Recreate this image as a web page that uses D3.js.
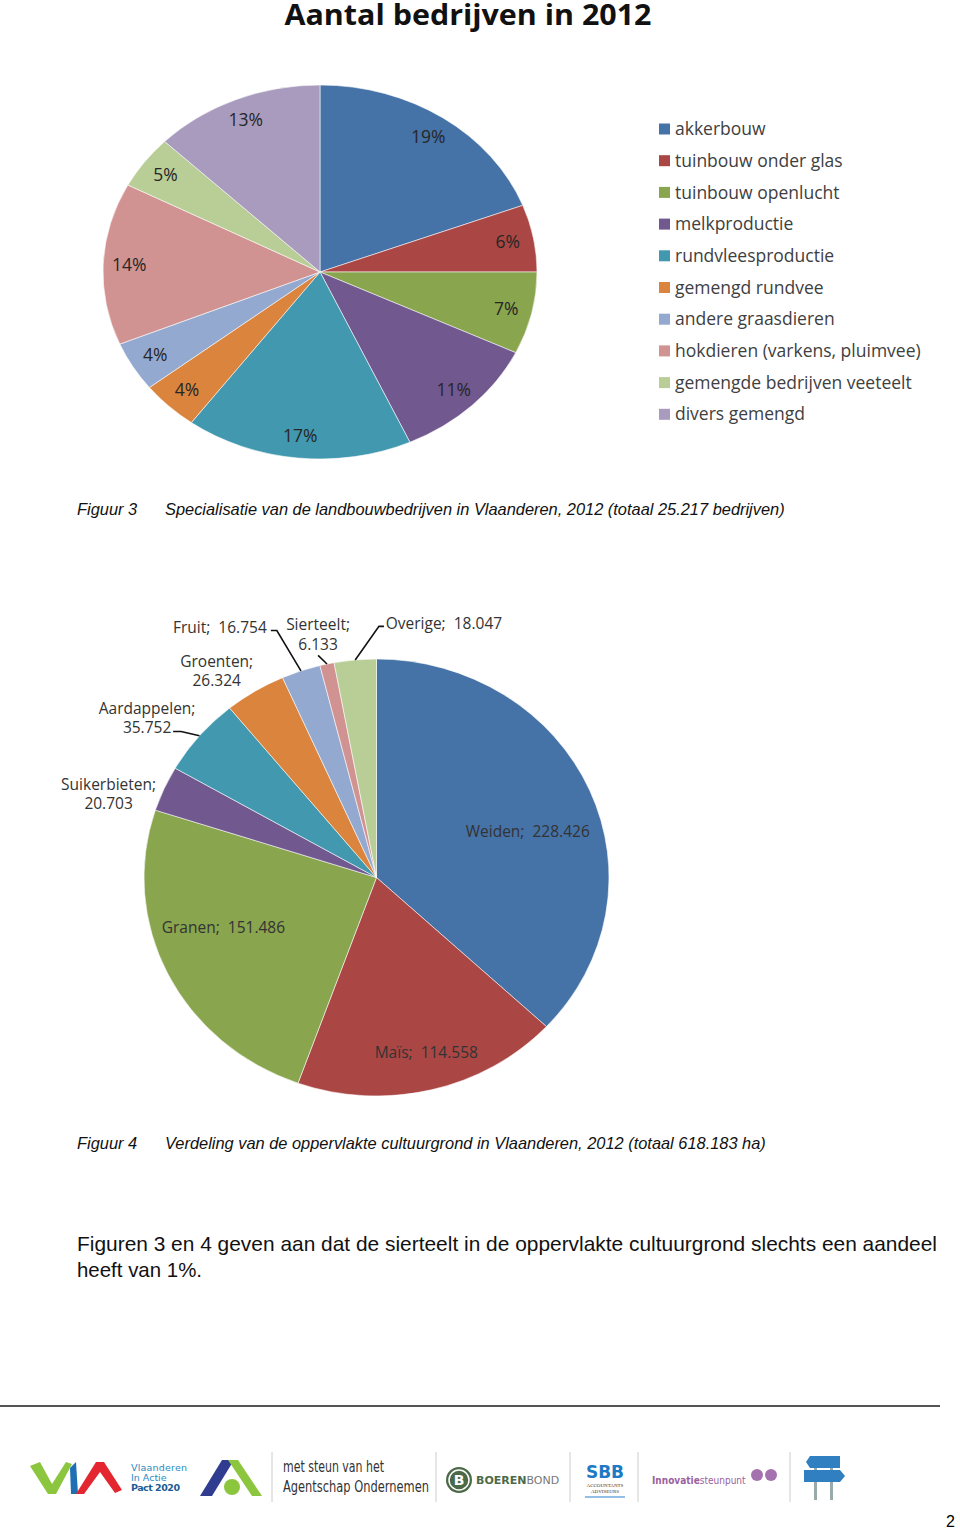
<!DOCTYPE html>
<meta charset="utf-8">
<body style="margin:0;background:#fff">
<div id="page"></div>
</body>
<script src="https://cdn.jsdelivr.net/npm/d3@7"></script>
<script>

// Figuur 3: share of farms per specialisation (percent of 25.217)
var farmTypes = ["akkerbouw", "tuinbouw onder glas", "tuinbouw openlucht", "melkproductie",
	"rundvleesproductie", "gemengd rundvee", "andere graasdieren",
	"hokdieren (varkens, pluimvee)", "gemengde bedrijven veeteelt", "divers gemengd"];
var farmShares = [19.2, 5.8, 7.1, 11.1, 16.9, 4.3, 4.3, 14.0, 4.6, 12.7];

// Figuur 4: area per crop (ha)
var cropNames = ["Weiden", "Maïs", "Granen", "Suikerbieten", "Aardappelen",
	"Groenten", "Fruit", "Sierteelt", "Overige"];
var cropAreas = [228426, 114558, 151486, 20703, 35752, 26324, 16754, 6133, 18047];

var palette = ["#4572a7", "#aa4643", "#89a54e", "#71588f", "#4198af",
	"#db843d", "#93a9cf", "#d19392", "#b9cd96", "#a99bbd"];

// label placement for the crop pie: radius factor, nudge, wrap, leader elbow/tick
var cropLabelLayout = [
	{ r: 0.7, dx: 2, dy: 15 },
	{ r: 0.8, dx: 6, dy: 5 },
	{ r: 0.7, dx: -7, dy: -17 },
	{ r: 1.2, dx: -13, dy: 23, wrap: true },
	{ r: 1.2, dx: -17, dy: 10, wrap: true, leader: [34, 14, -8] },
	{ r: 1.2, dx: -14, dy: 17, wrap: true },
	{ r: 1.2, dx: -66, dy: -2, leader: [57, 3, -6] },
	{ r: 1.2, dx: 1, dy: 13, wrap: true, leader: [0, 21, 0] },
	{ r: 1.2, dx: 93, dy: 7, leader: [-65, 3, 5] }
];

var width = 960,
	height = 1529;
var labelFont = "'Open Sans', Lato, sans-serif";
var nl = d3.formatLocale({ decimal: ",", thousands: ".", grouping: [3], currency: ["€", ""] });
var fmtArea = nl.format(",d");

var svg = d3.select("#page").append("svg")
	.attr("width", width)
	.attr("height", height)
	.style("display", "block");

/*
 * Draws an elliptical pie (Excel stretches it) and returns helpers.
 */
function drawPie(values, cx, cy, rx, ry) {
	const pie = d3.pie().sort(null).value(d => d)(values);
	const arc = d3.arc().innerRadius(0).outerRadius(rx);
	const g = svg.append("g")
		.attr("transform", "translate(" + cx + "," + cy + ") scale(1," + (ry / rx) + ")");
	g.selectAll("path")
		.data(pie)
		.enter().append("path")
		.attr("d", arc)
		.attr("fill", (d, i) => palette[i])
		.attr("stroke", "#ffffff")
		.attr("stroke-opacity", 0.7)
		.attr("stroke-width", 0.8)
		.attr("vector-effect", "non-scaling-stroke");
	// point on the ellipse at a given angle and radius factor
	function at(angle, f) {
		return [cx + rx * f * Math.sin(angle), cy - ry * f * Math.cos(angle)];
	}
	return { slices: pie, at: at };
}

// ---- Figuur 3 ----
svg.append("text")
	.attr("x", 468).attr("y", 25)
	.attr("text-anchor", "middle")
	.attr("font-family", "'Open Sans', Lato, sans-serif")
	.attr("font-weight", "bold")
	.attr("font-size", 28)
	.attr("textLength", 367)
	.attr("lengthAdjust", "spacingAndGlyphs")
	.attr("fill", "#111")
	.text("Aantal bedrijven in 2012");

var pie1 = drawPie(farmShares, 320, 272, 217, 187);
svg.append("g").selectAll("text")
	.data(pie1.slices)
	.enter().append("text")
	.attr("x", d => pie1.at((d.startAngle + d.endAngle) / 2, 0.88)[0])
	.attr("y", d => pie1.at((d.startAngle + d.endAngle) / 2, 0.88)[1])
	.attr("dy", "0.35em")
	.attr("text-anchor", "middle")
	.attr("font-family", labelFont)
	.attr("font-size", 17.5)
	.attr("fill", "#262626")
	.text(d => Math.round(d.data) + "%");

var legend = svg.append("g").attr("transform", "translate(659,129)");
var rows = legend.selectAll("g")
	.data(farmTypes)
	.enter().append("g")
	.attr("transform", (d, i) => "translate(0," + (i * 31.7) + ")");
rows.append("rect")
	.attr("x", 0).attr("y", -5.5)
	.attr("width", 11).attr("height", 11)
	.attr("fill", (d, i) => palette[i]);
rows.append("text")
	.attr("x", 16).attr("dy", "0.35em")
	.attr("font-family", labelFont)
	.attr("font-size", 17.5)
	.attr("fill", "#404040")
	.text(d => d);

/*
 * Figure caption in the document font.
 */
function caption(y, num, txt) {
	const t = svg.append("g")
		.attr("font-family", "'Liberation Sans', Arial, sans-serif")
		.attr("font-style", "italic")
		.attr("font-size", 16.4)
		.attr("fill", "#111");
	t.append("text").attr("x", 77).attr("y", y).text(num);
	t.append("text").attr("x", 165).attr("y", y).text(txt);
}
caption(515, "Figuur 3", "Specialisatie van de landbouwbedrijven in Vlaanderen, 2012 (totaal 25.217 bedrijven)");

// ---- Figuur 4 ----
var pie2 = drawPie(cropAreas, 376.5, 877.5, 232.5, 218.5);
var lab2 = svg.append("g")
	.attr("font-family", labelFont)
	.attr("font-size", 15.5)
	.attr("fill", "#333");

pie2.slices.forEach(function (d, i) {
	const lay = cropLabelLayout[i];
	const mid = (d.startAngle + d.endAngle) / 2;
	const p = pie2.at(mid, lay.r);
	const x = p[0] + lay.dx,
		y = p[1] + lay.dy;
	const name = cropNames[i] + ";";
	const val = fmtArea(cropAreas[i]);
	const t = lab2.append("text")
		.attr("x", x).attr("y", y)
		.attr("text-anchor", "middle")
		.attr("xml:space", "preserve");
	if (lay.wrap) {
		t.append("tspan").attr("x", x).attr("dy", "-0.25em").text(name);
		t.append("tspan").attr("x", x).attr("dy", "1.25em").text(val);
	} else {
		t.attr("dy", "0.35em").text(name + "  " + val);
	}
	if (lay.leader) {
		const edge = pie2.at(mid, 1);
		const ex = x + lay.leader[0],
			ey = y + lay.leader[1];
		svg.append("polyline")
			.attr("points", [edge, [ex, ey], [ex + lay.leader[2], ey]].join(" "))
			.attr("fill", "none")
			.attr("stroke", "#111")
			.attr("stroke-width", 1.6);
	}
});

caption(1149, "Figuur 4", "Verdeling van de oppervlakte cultuurgrond in Vlaanderen, 2012 (totaal 618.183 ha)");

// ---- body text ----
var para = svg.append("g")
	.attr("font-family", "'Liberation Sans', Arial, sans-serif")
	.attr("font-size", 21)
	.attr("fill", "#111");
para.append("text")
	.attr("x", 77).attr("y", 1251)
	.attr("textLength", 860)
	.attr("lengthAdjust", "spacingAndGlyphs")
	.text("Figuren 3 en 4 geven aan dat de sierteelt in de oppervlakte cultuurgrond slechts een aandeel");
para.append("text")
	.attr("x", 77).attr("y", 1277)
	.attr("textLength", 125)
	.attr("lengthAdjust", "spacingAndGlyphs")
	.text("heeft van 1%.");

// ---- footer ----
svg.append("line")
	.attr("x1", 0).attr("x2", 940)
	.attr("y1", 1406).attr("y2", 1406)
	.attr("stroke", "#555").attr("stroke-width", 2);

var foot = svg.append("g");
[272, 436, 570, 638, 790].forEach(function (x) {
	foot.append("line")
		.attr("x1", x).attr("x2", x).attr("y1", 1452).attr("y2", 1502)
		.attr("stroke", "#ccc").attr("stroke-width", 1);
});

// VIA logo
foot.append("path").attr("d", "M30,1466 L40,1462 L52,1484 L66,1462 L72,1464 L56,1494 L48,1494 Z").attr("fill", "#8cc63f");
foot.append("path").attr("d", "M70,1468 L76,1462 L78,1494 L71,1494 Z").attr("fill", "#1f6fb2");
foot.append("path").attr("d", "M76,1494 L96,1462 L104,1462 L122,1490 L115,1493 L100,1472 L84,1494 Z").attr("fill", "#e3262f");
var viaTxt = foot.append("g").attr("font-family", "'DejaVu Sans', sans-serif").attr("font-size", 9.5).attr("fill", "#2a8bc4");
viaTxt.append("text").attr("x", 131).attr("y", 1471).attr("textLength", 56).text("Vlaanderen");
viaTxt.append("text").attr("x", 131).attr("y", 1481).text("In Actie");
viaTxt.append("text").attr("x", 131).attr("y", 1491).attr("font-weight", "bold").attr("fill", "#1d5b95").attr("textLength", 49).text("Pact 2020");

// agentschap logo
foot.append("path").attr("d", "M200,1496 L222,1460 L234,1460 L212,1496 Z").attr("fill", "#303c8f");
foot.append("path").attr("d", "M228,1460 L238,1460 L262,1496 L252,1496 Z").attr("fill", "#8cc63f");
foot.append("circle").attr("cx", 232).attr("cy", 1487).attr("r", 8).attr("fill", "#8cc63f");
var ag = foot.append("g").attr("font-family", "'DejaVu Sans Condensed', 'Liberation Sans', sans-serif").attr("font-size", 15).attr("fill", "#333");
ag.append("text").attr("x", 283).attr("y", 1472).attr("textLength", 101).attr("lengthAdjust", "spacingAndGlyphs").text("met steun van het");
ag.append("text").attr("x", 283).attr("y", 1492).attr("textLength", 146).attr("lengthAdjust", "spacingAndGlyphs").text("Agentschap Ondernemen");

// boerenbond
foot.append("circle").attr("cx", 459).attr("cy", 1480).attr("r", 13).attr("fill", "#4d6a48");
foot.append("circle").attr("cx", 459).attr("cy", 1480).attr("r", 10).attr("fill", "none").attr("stroke", "#fff").attr("stroke-width", 1.5);
foot.append("text").attr("x", 459).attr("y", 1485).attr("text-anchor", "middle")
	.attr("font-family", "'DejaVu Sans', sans-serif").attr("font-weight", "bold").attr("font-size", 14).attr("fill", "#fff").text("B");
var bb = foot.append("text").attr("x", 476).attr("y", 1484).attr("font-family", "'DejaVu Sans', sans-serif").attr("font-size", 11).attr("fill", "#4d6a48");
bb.append("tspan").attr("font-weight", "bold").text("BOEREN");
bb.append("tspan").attr("fill", "#777").text("BOND");

// SBB
foot.append("text").attr("x", 605).attr("y", 1478).attr("text-anchor", "middle")
	.attr("font-family", "'DejaVu Sans', sans-serif").attr("font-weight", "bold").attr("font-size", 17).attr("fill", "#1e7ac4").text("SBB");
foot.append("text").attr("x", 605).attr("y", 1487).attr("text-anchor", "middle")
	.attr("font-family", "'Liberation Serif', serif").attr("font-size", 5).attr("fill", "#333").text("ACCOUNTANTS");
foot.append("text").attr("x", 605).attr("y", 1493).attr("text-anchor", "middle")
	.attr("font-family", "'Liberation Serif', serif").attr("font-size", 5).attr("fill", "#333").text("ADVISEURS");
foot.append("line").attr("x1", 585).attr("x2", 625).attr("y1", 1497).attr("y2", 1497).attr("stroke", "#6fa8dc").attr("stroke-width", 1.5);

// innovatiesteunpunt
var inn = foot.append("text").attr("x", 652).attr("y", 1484).attr("font-family", "'DejaVu Sans Condensed', 'DejaVu Sans', sans-serif").attr("font-size", 10).attr("fill", "#9b5fa0");
inn.append("tspan").attr("font-weight", "bold").text("Innovatie");
inn.append("tspan").text("steunpunt");
foot.append("circle").attr("cx", 757).attr("cy", 1475).attr("r", 6).attr("fill", "#a572b0");
foot.append("circle").attr("cx", 771).attr("cy", 1475).attr("r", 6).attr("fill", "#a572b0");

// signpost
foot.append("rect").attr("x", 814).attr("y", 1460).attr("width", 3).attr("height", 40).attr("fill", "#9aa");
foot.append("rect").attr("x", 830).attr("y", 1460).attr("width", 3).attr("height", 40).attr("fill", "#9aa");
foot.append("path").attr("d", "M806,1462 L810,1456 L840,1456 L840,1468 L810,1468 Z").attr("fill", "#2f7fc1");
foot.append("path").attr("d", "M804,1470 L840,1470 L845,1476 L840,1482 L804,1482 Z").attr("fill", "#2f7fc1");

svg.append("text")
	.attr("x", 955).attr("y", 1527)
	.attr("text-anchor", "end")
	.attr("font-family", "'Liberation Sans', Arial, sans-serif")
	.attr("font-size", 16)
	.attr("fill", "#000")
	.text("2");
</script>
